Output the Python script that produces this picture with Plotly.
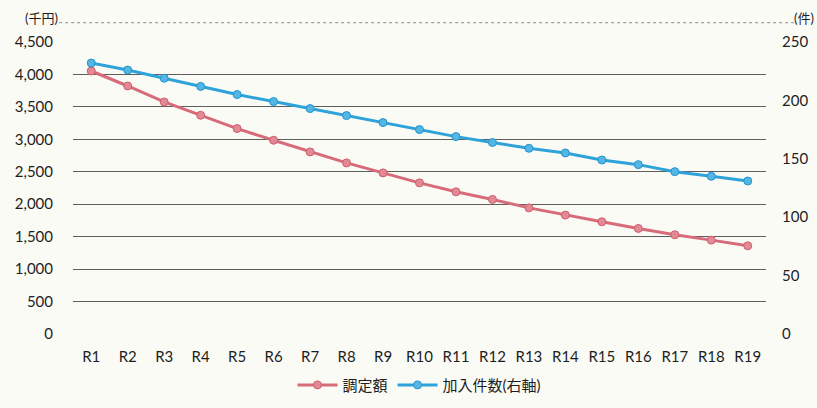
import plotly.graph_objects as go

# 年度区分
years = [f"R{i}" for i in range(1, 20)]

# 調定額（千円）
assessed = [4053, 3822, 3576, 3371, 3166, 2986, 2806, 2637, 2483, 2329,
            2191, 2074, 1944, 1832, 1729, 1627, 1529, 1447, 1359]

# 加入件数（件）
members = [232, 226, 219, 212, 205, 199, 193, 187, 181, 175,
           169, 164, 159, 155, 149, 145, 139, 135, 131]

left_ticks = list(range(0, 4501, 500))
right_ticks = list(range(0, 251, 50))

RED = "#d86b79"
BLUE = "#2da3da"
FONT = "Lato, 'Noto Sans CJK JP', sans-serif"

fig = go.Figure()
fig.add_trace(go.Scatter(
    x=years, y=assessed, name="調定額", mode="lines+markers",
    line=dict(color=RED, width=3),
    marker=dict(size=8, color="#e28995", line=dict(color="#cf5f6e", width=1)),
    yaxis="y",
))
fig.add_trace(go.Scatter(
    x=years, y=members, name="加入件数(右軸)", mode="lines+markers",
    line=dict(color=BLUE, width=3),
    marker=dict(size=8, color="#55b6e4", line=dict(color="#1f95cf", width=1)),
    yaxis="y2",
))

fig.update_layout(
    width=817, height=408,
    margin=dict(l=73, r=51, t=42, b=74),
    paper_bgcolor="#fbfbf6", plot_bgcolor="#fbfbf6",
    font=dict(family=FONT, size=15, color="#1e1e1e"),
    xaxis=dict(
        type="category", range=[-0.5, 18.5], showgrid=False, automargin=False,
        showline=False, ticks="", ticklabelstandoff=12,
        tickfont=dict(size=15),
    ),
    yaxis=dict(
        range=[0, 4500], tickvals=left_ticks, automargin=False,
        ticktext=[f"{v:,}" for v in left_ticks],
        showgrid=True, gridcolor="#5e5e5e", gridwidth=1,
        zeroline=False, showline=False, ticks="", ticklabelstandoff=19,
        tickfont=dict(size=15),
    ),
    yaxis2=dict(
        range=[0, 250], tickvals=right_ticks, overlaying="y", side="right",
        showgrid=False, zeroline=False, showline=False, ticks="", automargin=False,
        ticklabelstandoff=15, tickfont=dict(size=15),
    ),
    legend=dict(
        orientation="h", x=0.5, xanchor="center",
        yref="container", y=0.056, yanchor="middle",
        font=dict(size=15), bgcolor="rgba(0,0,0,0)", itemwidth=40,
    ),
    showlegend=True,
)

# 単位表示
fig.add_annotation(text="(千円)", xref="paper", yref="paper", x=-0.045, y=1.0,
                   xanchor="center", yanchor="bottom", yshift=14, showarrow=False,
                   font=dict(size=13))
fig.add_annotation(text="(件)", xref="paper", yref="paper", x=1.055, y=1.0,
                   xanchor="center", yanchor="bottom", yshift=14, showarrow=False,
                   font=dict(size=13))

# グラフ上端の枠線
fig.add_shape(type="line", xref="paper", yref="paper", x0=-0.02, x1=1.04,
              y0=1.066, y1=1.066, line=dict(color="#8a8a8a", width=1, dash="dot"))

fig.write_html("out.html")
